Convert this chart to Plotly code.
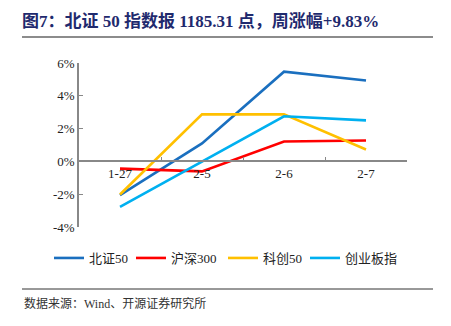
import plotly.graph_objects as go

categories = ["1-27", "2-5", "2-6", "2-7"]
bz50 = [-2.06, 1.10, 5.47, 4.93]
hs300 = [-0.44, -0.61, 1.21, 1.27]
kc50 = [-2.02, 2.87, 2.87, 0.73]
cybz = [-2.77, 0.00, 2.75, 2.50]
series_names = ["北证50", "沪深300", "科创50", "创业板指"]
colors = ["#1A6FBF", "#FF0000", "#FFC000", "#00B0F0"]
y_ticks = [-4, -2, 0, 2, 4, 6]

W, H = 451, 326
L, R, T, B = 79, 44, 63, 99
pw, ph = W - L - R, H - T - B

def px_x(x):
    return (x - L) / pw

def px_y(y):
    return (H - B - y) / ph

legend_ids = ["legend", "legend2", "legend3", "legend4"]
legend_left = [49, 131, 223, 305]

fig = go.Figure()
for name, vals, c, lg in zip(series_names, [bz50, hs300, kc50, cybz], colors, legend_ids):
    fig.add_trace(go.Scatter(x=categories, y=[v / 100 for v in vals], name=name,
                             mode="lines", line=dict(color=c, width=2.6), legend=lg))

ymin, ymax = -0.04, 0.06
zero_pos = (0 - ymin) / (ymax - ymin)

cjk = "Liberation Serif, Noto Sans CJK SC"
legends = {}
for lg, lx in zip(legend_ids, legend_left):
    legends[lg] = dict(orientation="h", xref="container", yref="container",
                       x=lx / W, xanchor="left", y=1 - 258 / H, yanchor="middle",
                       font=dict(size=13, color="#222222"), itemwidth=30,
                       bgcolor="rgba(0,0,0,0)")

fig.update_layout(
    width=W, height=H,
    margin=dict(l=L, r=R, t=T, b=B, autoexpand=False),
    paper_bgcolor="white", plot_bgcolor="white",
    font=dict(family=cjk, size=13, color="#222222"),
    showlegend=True,
    xaxis=dict(type="category", range=[-0.5, 3.5], anchor="free", position=zero_pos,
               showline=True, linecolor="#888888", linewidth=1.5,
               ticks="inside", tickson="boundaries", ticklen=4, tickcolor="#888888",
               showgrid=False, zeroline=False,
               tickfont=dict(family="Liberation Serif", size=13, color="#222222")),
    yaxis=dict(range=[ymin, ymax], tickvals=[v / 100 for v in y_ticks],
               ticktext=[f"{v}%" for v in y_ticks],
               showline=True, linecolor="#888888", linewidth=1.5,
               ticks="inside", ticklen=4, tickcolor="#888888",
               showgrid=False, zeroline=False,
               tickfont=dict(family="Liberation Serif", size=13, color="#222222")),
    title=dict(text="<b>图7：北证 50 指数报 1185.31 点，周涨幅+9.83%</b>",
               xref="container", yref="container", x=22 / W, xanchor="left",
               y=1 - 21 / H, yanchor="middle",
               font=dict(family="Liberation Serif, Noto Sans CJK SC", size=17, color="#1F2A6E")),
    **legends,
)

fig.add_shape(type="line", xref="paper", yref="paper",
              x0=px_x(22), x1=px_x(433), y0=px_y(37), y1=px_y(37),
              line=dict(color="#8C8C8C", width=2))
fig.add_shape(type="line", xref="paper", yref="paper",
              x0=px_x(22), x1=px_x(433), y0=px_y(289), y1=px_y(289),
              line=dict(color="#333333", width=1))
fig.add_annotation(text="数据来源：Wind、开源证券研究所", xref="paper", yref="paper",
                   x=px_x(22), y=px_y(303), xanchor="left", yanchor="middle",
                   showarrow=False, font=dict(size=12, color="#333333"))

fig.write_html("out.html")
